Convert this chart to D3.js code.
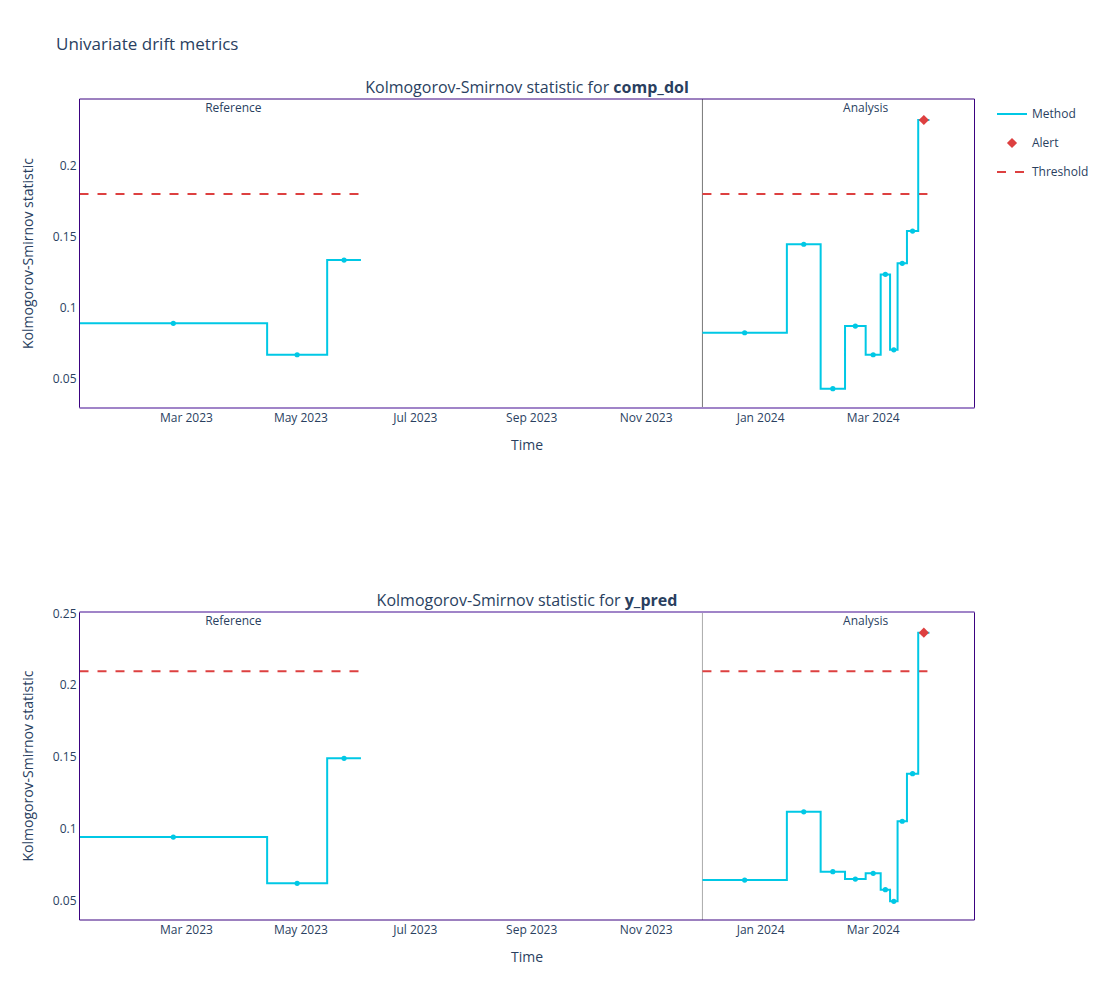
<!DOCTYPE html>
<html>
<head>
<meta charset="utf-8">
<script src="https://cdn.jsdelivr.net/npm/d3@7"></script>
<style>
  body { margin: 0; background: #fff; }
  svg text { font-family: "Open Sans", "Noto Sans", sans-serif; fill: #2a3f5f; }
</style>
</head>
<body>
<svg id="chart" width="1106" height="1000"></svg>
<script>
// chunk edges (start of each chunk, plus end of the last one)
const refEdges = ["2023-01-03", "2023-04-13", "2023-05-15", "2023-06-02"];
const anaEdges = ["2023-12-01", "2024-01-15", "2024-02-02", "2024-02-15", "2024-02-26",
                  "2024-03-05", "2024-03-10", "2024-03-14", "2024-03-19", "2024-03-25", "2024-03-31"];
const xRange = ["2023-01-03", "2024-04-24"];
const xTickDates = ["2023-03-01", "2023-05-01", "2023-07-01", "2023-09-01", "2023-11-01", "2024-01-01", "2024-03-01"];
const xTickLabels = ["Mar 2023", "May 2023", "Jul 2023", "Sep 2023", "Nov 2023", "Jan 2024", "Mar 2024"];
const periodLabelDates = ["2023-03-26", "2024-02-26"];
const periodLabels = ["Reference", "Analysis"];

// KS statistic per chunk
const compDolRef = [0.0892, 0.0671, 0.1338];
const compDolAna = [0.0826, 0.1449, 0.0432, 0.0873, 0.0671, 0.1237, 0.0706, 0.1315, 0.1542, 0.2324];
const compDolThreshold = 0.1803;
const yPredRef = [0.0943, 0.0621, 0.1491];
const yPredAna = [0.0644, 0.1119, 0.0702, 0.0651, 0.0691, 0.0577, 0.0496, 0.1053, 0.1384, 0.2365];
const yPredThreshold = 0.2096;

const yTicksTop = [0.05, 0.1, 0.15, 0.2];
const yTicksBottom = [0.05, 0.1, 0.15, 0.2, 0.25];

const panels = [
  { name: "comp_dol", ref: compDolRef, ana: compDolAna, thr: compDolThreshold,
    top: 99, bottom: 408, ydom: [0.0296, 0.2472], ticks: yTicksTop, sepColor: "#777" },
  { name: "y_pred", ref: yPredRef, ana: yPredAna, thr: yPredThreshold,
    top: 612, bottom: 920, ydom: [0.0366, 0.2509], ticks: yTicksBottom, sepColor: "#aaa" }
];

const svg = d3.select("#chart");
const left = 79.5, right = 974.5;
const lineColor = "#00c8e5", alertColor = "#dd4040";
const darkBorder = "#3b0280", lightBorder = "#a084c8";

const x = d3.scaleUtc().domain(xRange.map(d => new Date(d))).range([left, right]);

svg.append("text").attr("x", 56).attr("y", 50).style("font-size", "17px").text("Univariate drift metrics");

panels.forEach((p, i) => {
  const y = d3.scaleLinear().domain(p.ydom).range([p.bottom, p.top]);
  const g = svg.append("g");
  const midX = (left + right) / 2;

  // subplot title
  const t = g.append("text").attr("x", midX).attr("y", p.top - 6)
    .attr("text-anchor", "middle").style("font-size", "16px");
  t.append("tspan").text("Kolmogorov-Smirnov statistic for ");
  t.append("tspan").style("font-weight", "bold").text(p.name);

  // y axis ticks
  const ya = d3.axisLeft(y).tickValues(p.ticks).tickSize(0).tickPadding(3).tickFormat(d3.format("~g"));
  const yg = g.append("g").attr("transform", `translate(${left},0)`).call(ya);
  yg.select(".domain").remove();
  yg.selectAll("text").style("font-size", "12px").attr("fill", "#2a3f5f");

  // x axis ticks
  g.selectAll(".xt").data(xTickDates).enter().append("text")
    .attr("x", d => x(new Date(d))).attr("y", p.bottom + 14)
    .attr("text-anchor", "middle").style("font-size", "12px")
    .text((d, k) => xTickLabels[k]);

  // axis titles
  g.append("text").attr("x", midX).attr("y", p.bottom + 42)
    .attr("text-anchor", "middle").style("font-size", "14px").text("Time");
  g.append("text").attr("transform", `translate(33,${(p.top + p.bottom) / 2}) rotate(-90)`)
    .attr("text-anchor", "middle").style("font-size", "14px").text("Kolmogorov-Smirnov statistic");

  // separator between reference and analysis
  const sx = x(new Date(anaEdges[0]));
  g.append("line").attr("x1", sx).attr("x2", sx).attr("y1", p.top).attr("y2", p.bottom)
    .attr("stroke", p.sepColor).attr("stroke-width", 1);

  // period labels
  g.selectAll(".pl").data(periodLabelDates).enter().append("text")
    .attr("x", d => x(new Date(d))).attr("y", p.top + 13)
    .attr("text-anchor", "middle").style("font-size", "12px")
    .text((d, k) => periodLabels[k]);

  [[refEdges, p.ref], [anaEdges, p.ana]].forEach(([edges, vals]) => {
    const ed = edges.map(d => new Date(d));
    const chunks = vals.map((v, k) => ({ s: ed[k], e: ed[k + 1], v: v, m: new Date((+ed[k] + +ed[k + 1]) / 2) }));

    // threshold
    g.append("line").attr("x1", x(ed[0])).attr("x2", x(ed[ed.length - 1]))
      .attr("y1", y(p.thr)).attr("y2", y(p.thr))
      .attr("stroke", alertColor).attr("stroke-width", 2).attr("stroke-dasharray", "9,9");

    // step line
    const pts = [];
    chunks.forEach(c => { pts.push([x(c.s), y(c.v)]); pts.push([x(c.e), y(c.v)]); });
    g.append("path").attr("d", d3.line()(pts)).attr("fill", "none")
      .attr("stroke", lineColor).attr("stroke-width", 2);

    // markers
    g.selectAll(null).data(chunks.filter(c => c.v <= p.thr)).enter().append("circle")
      .attr("cx", c => x(c.m)).attr("cy", c => y(c.v)).attr("r", 2.6).attr("fill", lineColor);
    g.selectAll(null).data(chunks.filter(c => c.v > p.thr)).enter().append("path")
      .attr("d", d3.symbol(d3.symbolSquare, 52)())
      .attr("transform", c => `translate(${x(c.m)},${y(c.v)}) rotate(45)`)
      .attr("fill", alertColor);
  });

  // plot border
  g.append("line").attr("x1", left).attr("x2", left).attr("y1", p.top).attr("y2", p.bottom).attr("stroke", darkBorder);
  g.append("line").attr("x1", right).attr("x2", right).attr("y1", p.top).attr("y2", p.bottom).attr("stroke", darkBorder);
  g.append("line").attr("x1", left).attr("x2", right).attr("y1", p.top).attr("y2", p.top)
    .attr("stroke", i === 0 ? darkBorder : lightBorder).attr("stroke-width", i === 0 ? 1 : 2);
  g.append("line").attr("x1", left).attr("x2", right).attr("y1", p.bottom).attr("y2", p.bottom)
    .attr("stroke", i === 0 ? lightBorder : darkBorder).attr("stroke-width", i === 0 ? 2 : 1);
});

// legend
const lg = svg.append("g").attr("transform", "translate(997,114)");
lg.append("line").attr("x1", 0).attr("x2", 30).attr("y1", 0).attr("y2", 0).attr("stroke", lineColor).attr("stroke-width", 2);
lg.append("text").attr("x", 35).attr("y", 4).style("font-size", "12px").text("Method");
lg.append("path").attr("d", d3.symbol(d3.symbolSquare, 52)()).attr("transform", "translate(15,29) rotate(45)").attr("fill", alertColor);
lg.append("text").attr("x", 35).attr("y", 33).style("font-size", "12px").text("Alert");
lg.append("line").attr("x1", 0).attr("x2", 30).attr("y1", 58).attr("y2", 58).attr("stroke", alertColor)
  .attr("stroke-width", 2).attr("stroke-dasharray", "9,9");
lg.append("text").attr("x", 35).attr("y", 62).style("font-size", "12px").text("Threshold");
</script>
</body>
</html>
